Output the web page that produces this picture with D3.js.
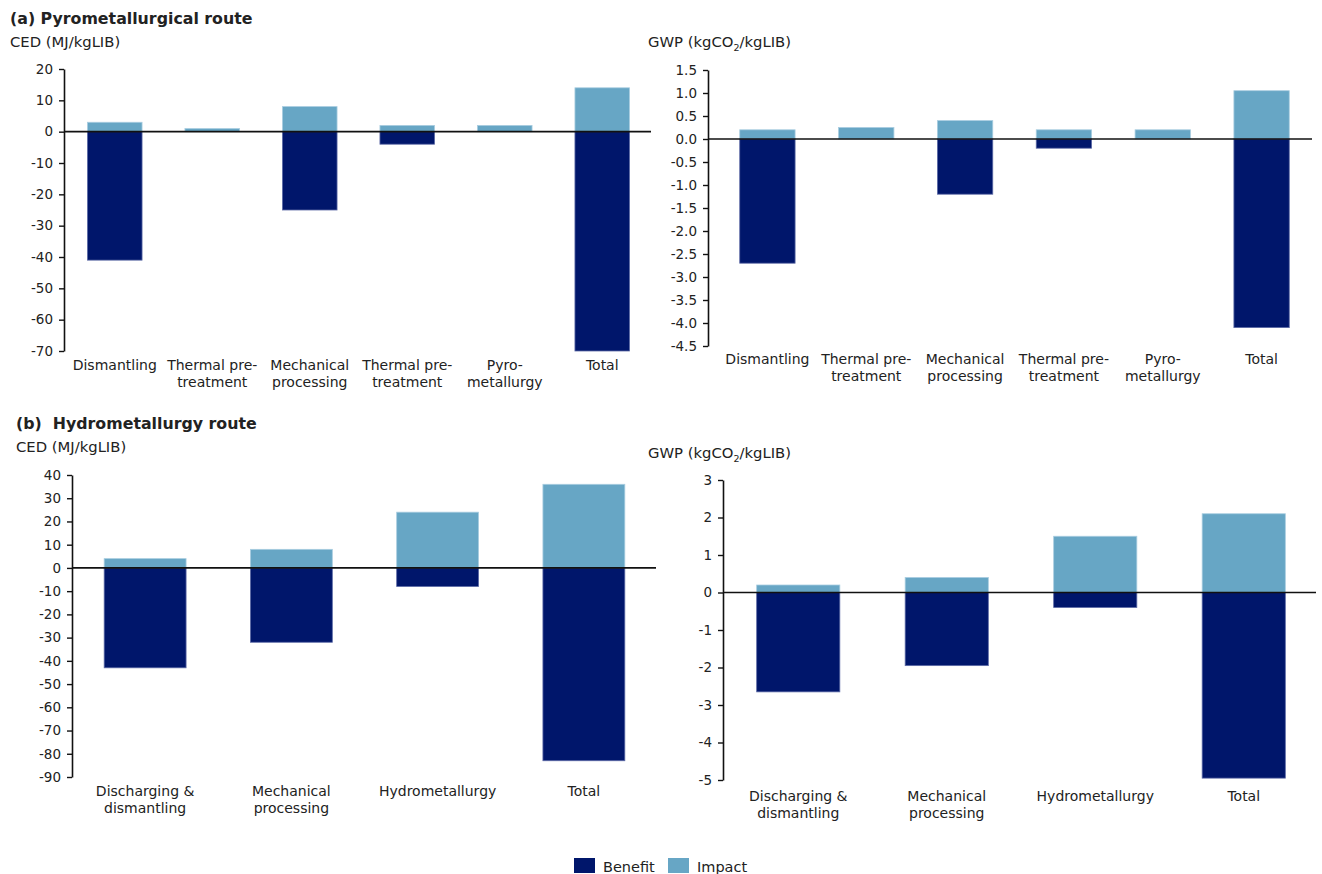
<!DOCTYPE html>
<html>
<head>
<meta charset="utf-8">
<script src="https://cdn.jsdelivr.net/npm/d3@7"></script>
<style>
  html, body { margin: 0; padding: 0; background: #fff; }
  svg { display: block; }
  text { font-family: "DejaVu Sans", sans-serif; fill: #222; }
</style>
</head>
<body>
<svg id="chart" width="1322" height="874"></svg>
<script>
// Process steps for each recycling route
const pyroSteps = ["Dismantling", "Thermal pre-\ntreatment", "Mechanical\nprocessing", "Thermal pre-\ntreatment", "Pyro-\nmetallurgy", "Total"];
const hydroSteps = ["Discharging &\ndismantling", "Mechanical\nprocessing", "Hydrometallurgy", "Total"];

// (a) Pyrometallurgical route
const pyroCedBenefit = [-41, 0, -25, -4, 0, -70];
const pyroCedImpact = [3, 1, 8, 2, 2, 14];
const pyroGwpBenefit = [-2.7, 0, -1.2, -0.2, 0, -4.1];
const pyroGwpImpact = [0.2, 0.25, 0.4, 0.2, 0.2, 1.05];

// (b) Hydrometallurgy route
const hydroCedBenefit = [-43, -32, -8, -83];
const hydroCedImpact = [4, 8, 24, 36];
const hydroGwpBenefit = [-2.65, -1.95, -0.4, -4.95];
const hydroGwpImpact = [0.2, 0.4, 1.5, 2.1];

// Axis tick values
const pyroCedTicks = [20, 10, 0, -10, -20, -30, -40, -50, -60, -70];
const pyroGwpTicks = [1.5, 1.0, 0.5, 0.0, -0.5, -1.0, -1.5, -2.0, -2.5, -3.0, -3.5, -4.0, -4.5];
const hydroCedTicks = [40, 30, 20, 10, 0, -10, -20, -30, -40, -50, -60, -70, -80, -90];
const hydroGwpTicks = [3, 2, 1, 0, -1, -2, -3, -4, -5];

const seriesNames = ["Benefit", "Impact"];
const colors = { Benefit: "#00166b", Impact: "#67a6c5" };

const svg = d3.select("#chart");

function drawPanel(opt) {
  const g = svg.append("g");
  const y = d3.scaleLinear()
    .domain([opt.ticks[opt.ticks.length - 1], opt.ticks[0]])
    .range([opt.bottom, opt.top]);
  const x = d3.scaleBand()
    .domain(d3.range(opt.steps.length))
    .range([opt.bandLeft, opt.bandRight])
    .paddingInner(opt.pad)
    .paddingOuter(opt.pad / 2);

  const rows = opt.steps.map((s, i) => ({ i, benefit: opt.benefit[i], impact: opt.impact[i] }));

  // Impact bars (above zero)
  g.selectAll("rect.impact").data(rows.filter(d => d.impact !== 0)).join("rect")
    .attr("class", "impact")
    .attr("x", d => x(d.i))
    .attr("width", x.bandwidth())
    .attr("y", d => y(d.impact))
    .attr("height", d => y(0) - y(d.impact))
    .attr("fill", colors.Impact)
    .attr("stroke", "#a9cde0")
    .attr("stroke-width", 0.8);

  // Benefit bars (below zero)
  g.selectAll("rect.benefit").data(rows.filter(d => d.benefit !== 0)).join("rect")
    .attr("class", "benefit")
    .attr("x", d => x(d.i))
    .attr("width", x.bandwidth())
    .attr("y", y(0))
    .attr("height", d => y(d.benefit) - y(0))
    .attr("fill", colors.Benefit)
    .attr("stroke", "#5c6aa6")
    .attr("stroke-width", 0.8);

  // Y axis
  const fmt = opt.format;
  const axis = d3.axisLeft(y)
    .tickValues(opt.ticks)
    .tickSize(5)
    .tickSizeOuter(0)
    .tickPadding(6)
    .tickFormat(d => fmt(d).replace("\u2212", "-"));
  const ax = g.append("g").attr("transform", `translate(${opt.axisX},0)`).call(axis);
  ax.select(".domain").attr("stroke", "#111").attr("stroke-width", 1.6);
  ax.selectAll(".tick line").attr("stroke", "#111").attr("stroke-width", 1.4);
  ax.selectAll(".tick text")
    .style("font-family", '"DejaVu Sans", sans-serif')
    .style("font-size", "13.5px")
    .attr("fill", "#222");

  // Zero line
  g.append("line")
    .attr("x1", opt.axisX).attr("x2", opt.zeroRight)
    .attr("y1", y(0)).attr("y2", y(0))
    .attr("stroke", "#111").attr("stroke-width", 1.6);

  // Category labels
  rows.forEach(d => {
    const lines = opt.steps[d.i].split("\n");
    const t = g.append("text")
      .attr("text-anchor", "middle")
      .style("font-size", "14px")
      .attr("x", x(d.i) + x.bandwidth() / 2)
      .attr("y", opt.labelY);
    lines.forEach((ln, k) => {
      t.append("tspan")
        .attr("x", x(d.i) + x.bandwidth() / 2)
        .attr("dy", k === 0 ? 0 : 16.5)
        .text(ln);
    });
  });

  // Axis title
  const title = g.append("text")
    .attr("x", opt.titleX).attr("y", opt.titleY)
    .style("font-size", "14.8px");
  if (opt.metric === "CED") {
    title.text("CED (MJ/kgLIB)");
  } else {
    title.append("tspan").text("GWP (kgCO");
    title.append("tspan").attr("dy", 4).style("font-size", "9.5px").text("2");
    title.append("tspan").attr("dy", -4).text("/kgLIB)");
  }
}

// Section headings
svg.append("text").attr("x", 10).attr("y", 24)
  .style("font-size", "15.8px").style("font-weight", "bold").attr("fill", "#111")
  .text("(a) Pyrometallurgical route");
svg.append("text").attr("x", 16).attr("y", 429)
  .style("font-size", "15.8px").style("font-weight", "bold").attr("fill", "#111")
  .attr("xml:space", "preserve")
  .text("(b)  Hydrometallurgy route");

drawPanel({
  metric: "CED", steps: pyroSteps, benefit: pyroCedBenefit, impact: pyroCedImpact,
  ticks: pyroCedTicks, format: d3.format("d"),
  top: 69, bottom: 351, axisX: 64, bandLeft: 66, bandRight: 651, zeroRight: 651,
  pad: 0.44, labelY: 370, titleX: 10, titleY: 47
});
drawPanel({
  metric: "GWP", steps: pyroSteps, benefit: pyroGwpBenefit, impact: pyroGwpImpact,
  ticks: pyroGwpTicks, format: d3.format(".1f"),
  top: 70, bottom: 346, axisX: 708, bandLeft: 718, bandRight: 1311, zeroRight: 1312,
  pad: 0.44, labelY: 364, titleX: 648, titleY: 47
});
drawPanel({
  metric: "CED", steps: hydroSteps, benefit: hydroCedBenefit, impact: hydroCedImpact,
  ticks: hydroCedTicks, format: d3.format("d"),
  top: 475, bottom: 777, axisX: 72, bandLeft: 72, bandRight: 657, zeroRight: 656,
  pad: 0.44, labelY: 796, titleX: 16, titleY: 452
});
drawPanel({
  metric: "GWP", steps: hydroSteps, benefit: hydroGwpBenefit, impact: hydroGwpImpact,
  ticks: hydroGwpTicks, format: d3.format("d"),
  top: 480, bottom: 780, axisX: 723, bandLeft: 724, bandRight: 1318, zeroRight: 1316,
  pad: 0.44, labelY: 801, titleX: 648, titleY: 458
});

// Legend
const legend = svg.append("g");
const legendX = [574, 668];
seriesNames.forEach((name, i) => {
  legend.append("rect")
    .attr("x", legendX[i]).attr("y", 858)
    .attr("width", 21).attr("height", 15)
    .attr("fill", colors[name]);
  legend.append("text")
    .attr("x", legendX[i] + 29).attr("y", 872)
    .style("font-size", "14.5px")
    .text(name);
});
</script>
</body>
</html>
